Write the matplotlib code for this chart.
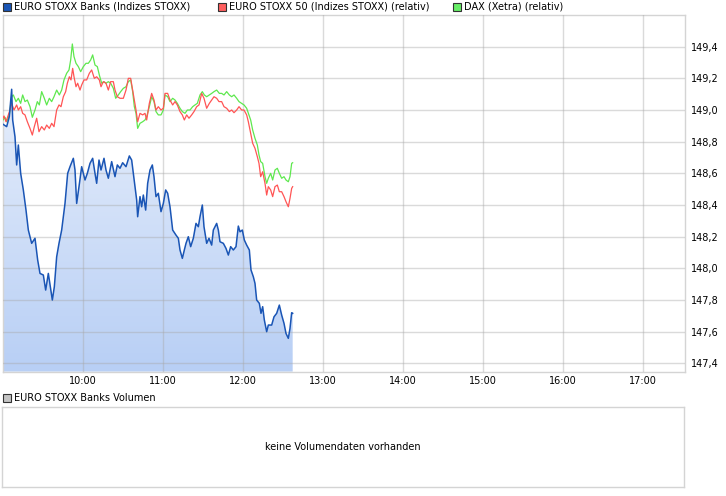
import numpy as np
import matplotlib
matplotlib.use("Agg")
from matplotlib import pyplot as plt
from matplotlib.colors import LinearSegmentedColormap
from matplotlib.patches import Rectangle

# minutes after 09:00 and index values
banks_t = [0, 2.75, 4.75, 6.5, 7.25, 9, 10.25, 11.5, 13.25, 15.25, 17.25, 19, 21.5, 24, 26, 27.75,
           30.25, 32, 34, 37, 38.5, 40.25, 42, 44, 46.5, 48.5, 50.25, 52.75, 54, 55.25, 57, 59,
           61.5, 63.25, 65.25, 67.25, 69, 70.25, 72, 73.5, 75.75, 77.25, 79, 81.5, 84, 85.75,
           87.75, 89.75, 92.25, 94.75, 96.5, 97.75, 99, 100.25, 101, 102.75, 104, 105.25, 107,
           108.5, 110.25, 112, 113.25, 114.75, 116.5, 118.5, 120.25, 122, 123.5, 125.25, 127.25,
           129.75, 131.5, 132.75, 134.5, 136, 137.25, 139, 140.75, 142.75, 144.75, 146.5, 147.75,
           149.5, 150.75, 152.75, 154.5, 156.5, 157.75, 160.25, 161.5, 162.75, 165.25, 167.25,
           169, 170.75, 172.75, 174.75, 176.5, 177.75, 179.5, 181, 182.75, 184.75, 186, 187.75,
           189, 190.25, 192.25, 193.5, 194.75, 196, 197.75, 199, 201.5, 203.25, 205.25, 207.25,
           209, 210.75, 212.25, 214, 215.25, 216.5, 217.25]
banks_v = [148.91, 148.895, 148.958, 149.131, 148.937, 148.831, 148.653, 148.779, 148.60, 148.495,
           148.368, 148.242, 148.158, 148.19, 148.053, 147.968, 147.958, 147.863, 147.968, 147.80,
           147.884, 148.073, 148.158, 148.242, 148.41, 148.60, 148.642, 148.695, 148.621, 148.41,
           148.516, 148.642, 148.558, 148.60, 148.663, 148.695, 148.60, 148.537, 148.684, 148.621,
           148.695, 148.621, 148.569, 148.674, 148.579, 148.653, 148.632, 148.667, 148.642, 148.71,
           148.684, 148.60, 148.516, 148.432, 148.326, 148.453, 148.389, 148.463, 148.368, 148.537,
           148.621, 148.653, 148.579, 148.453, 148.474, 148.358, 148.41, 148.495, 148.474, 148.389,
           148.242, 148.21, 148.19, 148.116, 148.063, 148.116, 148.158, 148.20, 148.137, 148.19,
           148.284, 148.263, 148.326, 148.40, 148.263, 148.158, 148.19, 148.147, 148.242, 148.284,
           148.242, 148.168, 148.158, 148.126, 148.084, 148.137, 148.116, 148.137, 148.267, 148.231,
           148.242, 148.179, 148.147, 148.116, 147.99, 147.947, 147.905, 147.80, 147.779, 147.716,
           147.758, 147.674, 147.60, 147.642, 147.642, 147.694, 147.716, 147.768, 147.705, 147.653,
           147.589, 147.558, 147.621, 147.72, 147.716]

es50_t = [0, 0.75, 2.25, 4, 5.25, 6.5, 8.25, 10.25, 11.5, 13.25, 14.75, 16.5, 18.25, 20.25, 22,
          23.5, 25.25, 27, 29, 31, 32.75, 34.75, 36.5, 38.25, 40.25, 42, 43.5, 45.25, 47, 48.25,
          49.75, 51, 52.25, 53.25, 54.75, 56, 57.75, 59, 60.75, 62.75, 64.75, 66.5, 68.5, 70.25,
          72.25, 73.5, 75.25, 77.25, 79, 80.75, 82.75, 84, 85.75, 87.75, 90.25, 92.25, 94, 95.75,
          97.25, 98.5, 99.75, 101, 102.75, 104.75, 106.5, 107.75, 109.75, 111.5, 113.25, 114.75,
          116.5, 118.5, 120.25, 121.5, 123.5, 125.25, 127.25, 129, 130.75, 132.75, 134.5, 136,
          137.75, 139.5, 141.5, 143.25, 145.25, 147, 149, 150.75, 152.75, 154.75, 156.5, 158.25,
          160.25, 162, 164, 165.75, 167.75, 169.75, 171.5, 173.25, 175.25, 177, 179, 180.75,
          182.75, 184, 185.75, 187.25, 189, 190.75, 192, 193.25, 194.75, 196.5, 197.75, 199,
          200.75, 202.25, 204, 205.75, 207.25, 209, 210.75, 212.25, 214, 215.25, 216.5, 217.25]
es50_v = [148.948, 148.962, 148.926, 148.969, 149.0, 149.042, 149.0, 149.032, 149.0, 149.021,
          148.979, 148.969, 148.926, 148.884, 148.842, 148.895, 148.948, 148.863, 148.895, 148.874,
          148.905, 148.884, 148.916, 148.895, 149.0, 149.032, 149.021, 149.084, 149.116, 149.169,
          149.21, 149.19, 149.263, 149.21, 149.147, 149.169, 149.126, 149.158, 149.19, 149.19,
          149.232, 149.253, 149.2, 149.21, 149.19, 149.147, 149.179, 149.169, 149.126, 149.179,
          149.179, 149.126, 149.084, 149.074, 149.074, 149.126, 149.2, 149.2, 149.126, 149.063,
          149.0, 148.926, 148.979, 148.969, 148.979, 148.937, 149.042, 149.105, 149.063, 149.0,
          149.021, 149.0, 149.011, 149.105, 149.105, 149.063, 149.032, 149.053, 149.032, 148.99,
          148.969, 148.937, 148.969, 148.948, 148.969, 148.99, 149.021, 149.032, 149.105, 149.074,
          149.011, 149.042, 149.063, 149.084, 149.074, 149.053, 149.053, 149.021, 149.011, 148.99,
          149.0, 148.983, 149.0, 149.021, 149.0, 149.0, 148.969, 148.926, 148.853, 148.79,
          148.758, 148.705, 148.663, 148.579, 148.61, 148.537, 148.463, 148.516, 148.495, 148.453,
          148.516, 148.526, 148.484, 148.484, 148.453, 148.421, 148.389, 148.442, 148.505, 148.516]

dax_t = [0, 1.5, 2.75, 4.75, 6.5, 7.75, 9.75, 11.5, 13.25, 14.75, 16.5, 18.25, 20.25, 22, 24,
         25.75, 27.25, 29, 31, 32.75, 34.75, 36.5, 38.25, 40.25, 42.25, 44, 45.75, 47.75, 49.5,
         50.75, 52, 53.25, 54.75, 56.5, 58.25, 60.25, 62.25, 64, 65.75, 67.25, 69, 70.75, 72.25,
         74, 75.75, 77.25, 79, 80.75, 82.75, 84.5, 86.5, 88.25, 90.25, 92.25, 94, 95.75, 97.25,
         98.5, 99.75, 101, 102.75, 104.75, 106.5, 107.75, 109.75, 111.5, 113.25, 114.75, 116.5,
         118.5, 120.25, 121.5, 123.5, 125.25, 127.25, 129, 130.75, 132.75, 134.5, 136.5, 138.25,
         140.25, 142.25, 144, 145.75, 147.75, 149.5, 151, 152.75, 154.75, 156.5, 158.25, 160.25,
         162.25, 164, 165.75, 167.75, 169.75, 171.5, 173.25, 175.25, 177, 179, 180.75, 182.75,
         184.5, 185.75, 187.25, 189, 190.75, 192, 193.25, 194.75, 196.5, 197.75, 199, 200.75,
         202.25, 204, 205.75, 207.25, 209, 210.75, 212.25, 214, 215.25, 216.5, 217.25]
dax_v = [148.937, 148.954, 148.926, 148.969, 149.084, 149.095, 149.053, 149.074, 149.042, 149.095,
         149.053, 149.063, 149.021, 148.954, 149.0, 149.053, 149.032, 149.116, 149.074, 149.032,
         149.074, 149.053, 149.084, 149.126, 149.095, 149.126, 149.19, 149.232, 149.253, 149.316,
         149.417, 149.337, 149.295, 149.274, 149.242, 149.274, 149.295, 149.295, 149.316, 149.348,
         149.284, 149.274, 149.221, 149.169, 149.179, 149.169, 149.179, 149.169, 149.137, 149.074,
         149.095, 149.116, 149.137, 149.147, 149.179, 149.19, 149.116, 149.021, 148.979, 148.884,
         148.916, 148.926, 148.937, 148.958, 149.021, 149.084, 149.053, 148.99, 148.969, 148.969,
         149.0, 149.095, 149.084, 149.053, 149.074, 149.063, 149.042, 149.011, 148.99, 148.979,
         149.0, 149.0, 149.021, 149.032, 149.042, 149.095, 149.116, 149.095, 149.084, 149.095,
         149.105, 149.116, 149.126, 149.105, 149.105, 149.095, 149.116, 149.095, 149.084, 149.095,
         149.074, 149.053, 149.042, 149.032, 149.011, 148.969, 148.937, 148.874, 148.821, 148.779,
         148.716, 148.674, 148.663, 148.579, 148.537, 148.569, 148.60, 148.558, 148.621, 148.632,
         148.60, 148.569, 148.579, 148.558, 148.547, 148.579, 148.663, 148.667]

y_ticks = [147.4, 147.6, 147.8, 148.0, 148.2, 148.4, 148.6, 148.8, 149.0, 149.2, 149.4]
x_hours = [10, 11, 12, 13, 14, 15, 16, 17]

W, H = 726, 496
fig = plt.figure(figsize=(W / 100, H / 100), dpi=100)
fig.patch.set_facecolor('white')
FS = 7

ymin, ymax = 147.348, 149.6
xmax = 511.5
ax = fig.add_axes([3 / W, 1 - 371.6 / H, 682 / W, 356.6 / H])
ax.set_xlim(0, xmax)
ax.set_ylim(ymin, ymax)

# gradient area under the banks line
poly = ax.fill_between(banks_t, banks_v, ymin, color='none', lw=0)
cmap = LinearSegmentedColormap.from_list('area', ['#b8cff5', '#f2f6fd'])
grad = np.linspace(0, 1, 256).reshape(-1, 1)
im = ax.imshow(grad, extent=[0, xmax, ymin, ymax], origin='lower', aspect='auto',
               cmap=cmap, zorder=1)
im.set_clip_path(poly.get_paths()[0], transform=ax.transData)

ax.plot(dax_t, dax_v, color='#5ee84e', lw=0.9, zorder=3)
ax.plot(es50_t, es50_v, color='#ff5555', lw=0.9, zorder=3)
ax.plot(banks_t, banks_v, color='#1a55b5', lw=1.1, zorder=4)

ax.set_xticks([(h - 9) * 60 for h in x_hours])
ax.set_xticklabels(['%d:00' % h for h in x_hours])
ax.set_yticks(y_ticks)
ax.set_yticklabels([('%.1f' % v).replace('.', ',') for v in y_ticks])
ax.yaxis.tick_right()
ax.tick_params(axis='both', length=0, labelsize=FS, colors='black')
ax.tick_params(axis='y', pad=4)
ax.tick_params(axis='x', pad=3.5)
ax.grid(True, color='#a8a8a8', alpha=0.42, lw=1, zorder=2)
ax.set_axisbelow(False)
for s in ax.spines.values():
    s.set_color('#d4d4d4')
    s.set_linewidth(1)

# legend row on top
legend = [('EURO STOXX Banks (Indizes STOXX)', '#1a55b5', 3),
          ('EURO STOXX 50 (Indizes STOXX) (relativ)', '#ff5f5f', 218),
          ('DAX (Xetra) (relativ)', '#66ee66', 453)]
for label, c, x0 in legend:
    fig.patches.append(Rectangle((x0 / W, 1 - 10.5 / H), 8 / W, 8 / H, transform=fig.transFigure,
                                 facecolor=c, edgecolor='#333333', lw=0.8))
    fig.text((x0 + 11) / W, 1 - 6.5 / H, label, fontsize=FS, va='center', ha='left')

# volume panel
fig.patches.append(Rectangle((3 / W, 1 - 402 / H), 8 / W, 8 / H, transform=fig.transFigure,
                             facecolor='#c4c4c4', edgecolor='#333333', lw=0.8))
fig.text(14 / W, 1 - 398 / H, 'EURO STOXX Banks Volumen', fontsize=FS, va='center', ha='left')
vax = fig.add_axes([2 / W, 1 - 487 / H, 682 / W, 80 / H])
vax.set_xticks([])
vax.set_yticks([])
for s in vax.spines.values():
    s.set_color('#d4d4d4')
    s.set_linewidth(1)
vax.text(0.5, 0.5, 'keine Volumendaten vorhanden', transform=vax.transAxes,
         ha='center', va='center', fontsize=FS)

fig.savefig('out.png', dpi=100)
